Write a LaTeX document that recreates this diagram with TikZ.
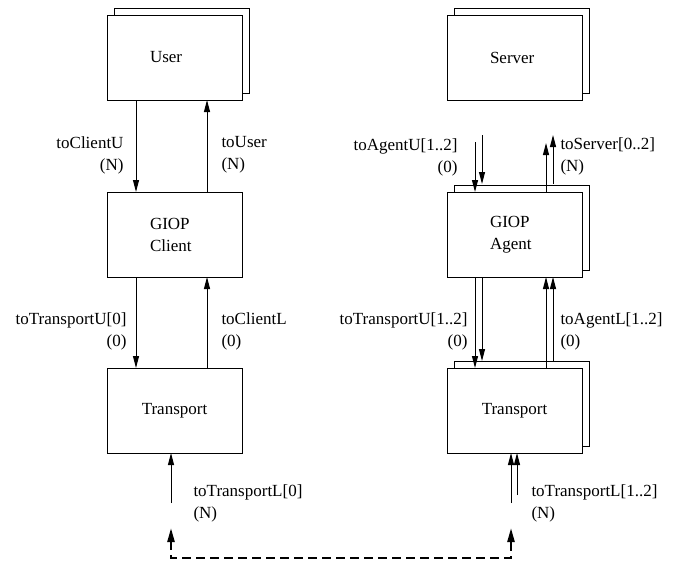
\documentclass[tikz,border=0pt]{standalone}
\usepackage{fontspec}
\setmainfont{Liberation Serif}
\usetikzlibrary{positioning, arrows.meta, shadows}
\tikzset{
  every node/.style={text=black, font=\fontsize{8.5}{11}\selectfont},
  every path/.style={line width=0.5pt},
  box/.style={draw=black, fill=white, minimum width=67.5pt, minimum height=42.5pt, inner sep=0pt, outer sep=0pt},
  lbox/.style={box, text width=24.5pt, align=left},
  stack/.style={copy shadow={shadow xshift=3.5pt, shadow yshift=3.5pt, fill=white, draw=black}},
  lbl/.style={draw=none, fill=none, inner sep=0pt},
  link/.style={draw=black, -{Triangle[length=6pt, width=3pt]}},
  net/.style={draw=black, line width=1.2pt, dash pattern=on 4.5pt off 2.5pt,
    {Triangle[length=7pt, width=3.5pt]}-{Triangle[length=7pt, width=3.5pt]}}
}

\begin{document}
\begin{tikzpicture}[x=0.5pt, y=-0.5pt]
  \useasboundingbox (0,0) rectangle (674,562);
  % Nodes
  \node (user) [lbox, stack] at (174.5,57.5) {User};
  \node (client) [lbox, below=46pt of user] {GIOP\\Client};
  \node (tcli) [box, below=45.5pt of client] {Transport};
  \node (server) [lbox, stack, right=102.5pt of user] {Server};
  \node (agent) [lbox, stack, right=102.5pt of client] {GIOP\\Agent};
  \node (tsrv) [box, stack, right=102.5pt of tcli] {Transport};

  % client side
  \draw[link] ([xshift=-19.25pt]user.south) -- node[lbl, pos=.6, left=6pt, align=right] {toClientU\\(N)} ([xshift=-19.25pt]client.north);
  \draw[link] ([xshift=16.25pt]client.north) -- node[lbl, pos=.4, right=7pt, align=left] {toUser\\(N)} ([xshift=16.25pt]user.south);
  \draw[link] ([xshift=-19.25pt]client.south) -- node[lbl, pos=.6, left=4.5pt, align=right] {toTransportU[0]\\(0)} ([xshift=-19.25pt]tcli.north);
  \draw[link] ([xshift=16.25pt]tcli.north) -- node[lbl, pos=.4, right=7pt, align=left] {toClientL\\(0)} ([xshift=16.25pt]client.south);
  \draw[link] ([xshift=-1.75pt, yshift=-25pt]tcli.south) -- node[lbl, pos=0, right=11pt, align=left] {toTransportL[0]\\(N)} ([xshift=-1.75pt]tcli.south);

  % server side
  \draw[link] ([xshift=-19.75pt, yshift=25pt]agent.north) -- node[lbl, pos=.3, left=8.5pt, align=right] {toAgentU[1..2]\\(0)} ([xshift=-19.75pt]agent.north);
  \draw[link] ([xshift=-16.25pt, yshift=28.5pt]agent.north) -- ([xshift=-16.25pt, yshift=4pt]agent.north);
  \draw[link] ([xshift=15.75pt]agent.north) -- ([xshift=15.75pt, yshift=24.5pt]agent.north);
  \draw[link] ([xshift=19.25pt, yshift=4pt]agent.north) -- node[lbl, pos=.57, right=3.5pt, align=left] {toServer[0..2]\\(N)} ([xshift=19.25pt, yshift=28.5pt]agent.north);

  \draw[link] ([xshift=-19.75pt]agent.south) -- node[lbl, pos=.6, left=3.5pt, align=right] {toTransportU[1..2]\\(0)} ([xshift=-19.75pt]tsrv.north);
  \draw[link] ([xshift=-16.25pt]agent.south) -- ([xshift=-16.25pt, yshift=3.5pt]tsrv.north);
  \draw[link] ([xshift=15.75pt]tsrv.north) -- ([xshift=15.75pt]agent.south);
  \draw[link] ([xshift=19.25pt, yshift=3.5pt]tsrv.north) -- node[lbl, pos=.35, right=3.5pt, align=left] {toAgentL[1..2]\\(0)} ([xshift=19.25pt]agent.south);

  \draw[link] ([xshift=-1.75pt, yshift=-25pt]tsrv.south) -- node[lbl, pos=0, right=10pt, align=left] {toTransportL[1..2]\\(N)} ([xshift=-1.75pt]tsrv.south);
  \draw[link] ([xshift=1.25pt, yshift=-21pt]tsrv.south) -- ([xshift=1.25pt]tsrv.south);

  % network
  \coordinate (netL) at ([xshift=-1.75pt, yshift=-37.5pt]tcli.south);
  \coordinate (netR) at ([xshift=-1.75pt, yshift=-37.5pt]tsrv.south);
  \draw[net] (netL) -- ++(0,30) -| (netR);
\end{tikzpicture}
\end{document}
